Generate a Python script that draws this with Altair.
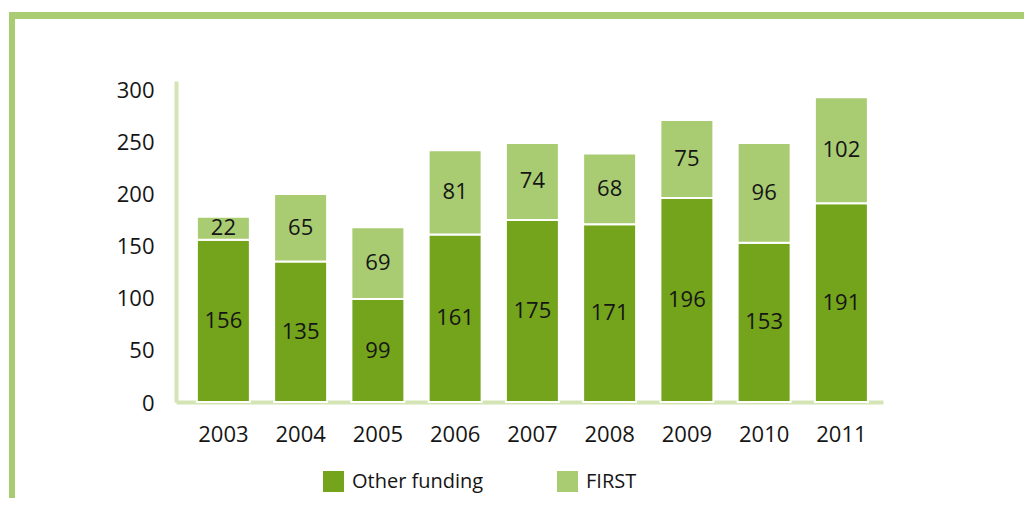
import altair as alt
import pandas as pd

years = ["2003", "2004", "2005", "2006", "2007", "2008", "2009", "2010", "2011"]
other_funding = [156, 135, 99, 161, 175, 171, 196, 153, 191]
first_funding = [22, 65, 69, 81, 74, 68, 75, 96, 102]
series = ["Other funding", "FIRST"]
colors = ["#74a31c", "#a9cc72"]
y_ticks = [0, 50, 100, 150, 200, 250, 300]

rows = []
for i, yr in enumerate(years):
    rows.append({"year": yr, "series": series[0], "value": other_funding[i], "order": 0})
    rows.append({"year": yr, "series": series[1], "value": first_funding[i], "order": 1})
df = pd.DataFrame(rows)

FONT = "Open Sans"
AXIS_COLOR = "#d3e5b4"
FRAME_COLOR = "#a9cc72"
TEXT_COLOR = "#151515"

base = alt.Chart(df).transform_stack(
    stack="value", groupby=["year"], as_=["v0", "v1"], sort=[alt.SortField("order")]
).transform_calculate(mid="(datum.v0 + datum.v1) / 2")

x_enc = alt.X(
    "year:N",
    title=None,
    sort=years,
    scale=alt.Scale(paddingInner=0.314, paddingOuter=0.233, align=0.58),
    axis=alt.Axis(
        labelAngle=0, ticks=False, domainColor=AXIS_COLOR, domainWidth=4,
        labelFont=FONT, labelFontSize=22, labelColor=TEXT_COLOR, labelPadding=22,
    ),
)
y_scale = alt.Scale(domain=[0, 308.6], nice=False, zero=True)

bars = base.mark_bar(stroke="white", strokeWidth=2).encode(
    x=x_enc,
    y=alt.Y(
        "v0:Q", title=None, scale=y_scale,
        axis=alt.Axis(
            values=y_ticks, ticks=False, grid=False, domainColor=AXIS_COLOR, domainWidth=4,
            labelFont=FONT, labelFontSize=22, labelColor=TEXT_COLOR, labelPadding=22,
            labelOffset=1,
        ),
    ),
    y2="v1:Q",
    color=alt.Color(
        "series:N",
        sort=series,
        scale=alt.Scale(domain=series, range=colors),
        legend=alt.Legend(
            title=None, orient="none", direction="horizontal", legendX=147, legendY=390,
            symbolType="square", symbolSize=441, symbolStrokeWidth=0, symbolOpacity=1,
            labelFont=FONT, labelFontSize=20, labelColor=TEXT_COLOR, labelOffset=8,
            columnPadding=73, padding=0,
        ),
    ),
)

labels = base.mark_text(font=FONT, fontSize=22, color=TEXT_COLOR).encode(
    x=alt.X("year:N", sort=years),
    y=alt.Y("mid:Q", scale=y_scale),
    text="value:Q",
)

frame_top = alt.Chart(df).mark_rule(color=FRAME_COLOR, strokeWidth=6).encode(
    x=alt.value(-167), x2=alt.value(860), y=alt.value(-65.5)
)
frame_left = alt.Chart(df).mark_rule(color=FRAME_COLOR, strokeWidth=5.5).encode(
    x=alt.value(-164), y=alt.value(-68.5), y2=alt.value(420)
)

chart = alt.layer(bars, labels, frame_top, frame_left).properties(
    width=707, height=321,
    autosize=alt.AutoSizeParams(type="none"),
    padding={"left": 168, "top": 73, "right": 141, "bottom": 96},
).configure_view(stroke=None)

chart.save("out.html", embed_options={"renderer": "svg", "actions": False})
